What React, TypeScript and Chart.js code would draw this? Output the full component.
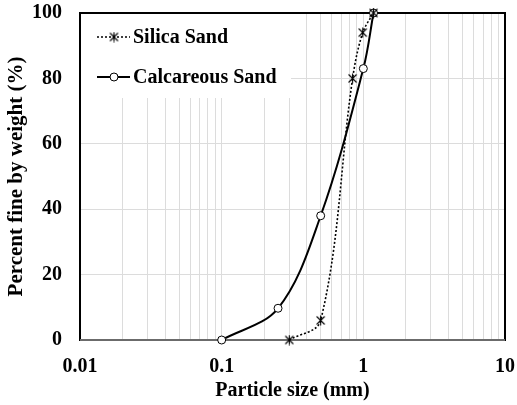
import React, { useEffect, useRef } from "react";
import { Chart, registerables } from "chart.js";

Chart.register(...registerables);

const silicaSize = [0.3, 0.5, 0.84, 0.99, 1.18];
const silicaFine = [0, 6, 80, 94, 100];
const calcSize = [0.1, 0.25, 0.5, 1.0, 1.18];
const calcFine = [0, 9.7, 38, 83, 100];
const xTickValues = [0.01, 0.1, 1, 10];
const seriesNames = ["Silica Sand", "Calcareous Sand"];

const FONT = "'Liberation Serif', 'Times New Roman', serif";

function makeStar(): HTMLCanvasElement {
  const c = document.createElement("canvas");
  c.width = 11;
  c.height = 11;
  const g = c.getContext("2d")!;
  g.strokeStyle = "#000";
  g.lineWidth = 1.1;
  g.beginPath();
  g.moveTo(1.5, 1.5);
  g.lineTo(9.5, 9.5);
  g.moveTo(9.5, 1.5);
  g.lineTo(1.5, 9.5);
  g.moveTo(5.5, 0.5);
  g.lineTo(5.5, 10.5);
  g.stroke();
  return c;
}

export default function App() {
  const ref = useRef<HTMLCanvasElement>(null);
  useEffect(() => {
    document.body.style.margin = "0";
    const star = makeStar();
    const minorTicks: number[] = [];
    for (let e = -2; e <= 0; e++) {
      for (let m = 1; m <= 9; m++) minorTicks.push(+(m * Math.pow(10, e)).toPrecision(3));
    }
    minorTicks.push(10);

    const legendPlugin = {
      id: "frameLegend",
      beforeDatasetsDraw(chart: any) {
        const { ctx, chartArea: a } = chart;
        ctx.save();
        ctx.fillStyle = "#fff";
        ctx.fillRect(a.left + 1, a.top + 1, 210, 84);
        ctx.strokeStyle = "#000";
        ctx.lineWidth = 2;
        ctx.strokeRect(a.left, a.top, a.right - a.left, a.bottom - a.top);
        ctx.strokeStyle = "#6b6b6b";
        ctx.beginPath();
        ctx.moveTo(a.left, a.bottom);
        ctx.lineTo(a.right, a.bottom);
        ctx.stroke();
        const lx0 = a.left + 17, lx1 = a.left + 50, mx = a.left + 34;
        const y1 = a.top + 24, y2 = a.top + 64;
        ctx.strokeStyle = "#000";
        ctx.lineWidth = 1.5;
        ctx.setLineDash([2, 2]);
        ctx.beginPath();
        ctx.moveTo(lx0, y1);
        ctx.lineTo(lx1, y1);
        ctx.stroke();
        ctx.setLineDash([]);
        ctx.drawImage(star, mx - 5.5, y1 - 5.5);
        ctx.lineWidth = 2;
        ctx.beginPath();
        ctx.moveTo(lx0, y2);
        ctx.lineTo(lx1, y2);
        ctx.stroke();
        ctx.fillStyle = "#fff";
        ctx.lineWidth = 1;
        ctx.beginPath();
        ctx.arc(mx, y2, 4, 0, Math.PI * 2);
        ctx.fill();
        ctx.stroke();
        ctx.fillStyle = "#000";
        ctx.font = `bold 20px ${FONT}`;
        ctx.textBaseline = "middle";
        ctx.textAlign = "left";
        ctx.fillText(seriesNames[0], a.left + 53, y1 + 1);
        ctx.fillText(seriesNames[1], a.left + 53, y2 + 1);
        ctx.restore();
      },
    };

    const chart = new Chart(ref.current!, {
      type: "line",
      data: {
        datasets: [
          {
            label: seriesNames[0],
            data: silicaSize.map((x, i) => ({ x, y: silicaFine[i] })),
            borderColor: "#000",
            borderWidth: 1.6,
            borderDash: [2, 2],
            pointStyle: star as any,
            pointRadius: 5,
            tension: 0.35,
            clip: false as any,
          },
          {
            label: seriesNames[1],
            data: calcSize.map((x, i) => ({ x, y: calcFine[i] })),
            borderColor: "#000",
            borderWidth: 2,
            pointStyle: "circle",
            pointRadius: 4,
            pointBorderWidth: 1,
            pointBackgroundColor: "#fff",
            pointBorderColor: "#000",
            tension: 0.35,
            clip: false as any,
          },
        ],
      },
      options: {
        responsive: false,
        animation: false,
        layout: { padding: 0 },
        plugins: { legend: { display: false }, tooltip: { enabled: false } },
        scales: {
          x: {
            type: "logarithmic",
            min: 0.01,
            max: 10,
            afterBuildTicks: (s: any) => {
              s.ticks = minorTicks.map((v) => ({ value: v, major: xTickValues.includes(v) }));
            },
            afterFit: (s: any) => {
              s.height = 65;
              s.paddingLeft = 0;
              s.paddingRight = 12;
            },
            ticks: {
              autoSkip: false,
              maxRotation: 0,
              padding: 15,
              color: "#000",
              font: { family: FONT, size: 20, weight: "bold" },
              callback: (v: any) => (xTickValues.includes(Number(v)) ? String(v) : ""),
            },
            grid: { color: "#dcdcdc", lineWidth: 1, drawTicks: false },
            border: { display: false },
            title: {
              display: true,
              text: "Particle size (mm)",
              color: "#000",
              font: { family: FONT, size: 20, weight: "bold" },
              padding: { top: 0, bottom: 2 },
            },
          },
          y: {
            min: 0,
            max: 100,
            afterFit: (s: any) => {
              s.width = 80;
              s.paddingTop = 13;
              s.paddingBottom = 0;
            },
            ticks: {
              stepSize: 20,
              padding: 18,
              color: "#000",
              font: { family: FONT, size: 20, weight: "bold" },
            },
            grid: { color: "#dcdcdc", lineWidth: 1, drawTicks: false },
            border: { display: false },
            title: {
              display: true,
              text: "Percent fine by weight (%)",
              color: "#000",
              font: { family: FONT, size: 21, weight: "bold" },
              padding: { top: 4, bottom: 0 },
            },
          },
        },
      },
      plugins: [legendPlugin],
    } as any);
    return () => chart.destroy();
  }, []);
  return (
    <div style={{ width: 517, height: 405 }}>
      <canvas ref={ref} width={517} height={405} style={{ display: "block" }} />
    </div>
  );
}
